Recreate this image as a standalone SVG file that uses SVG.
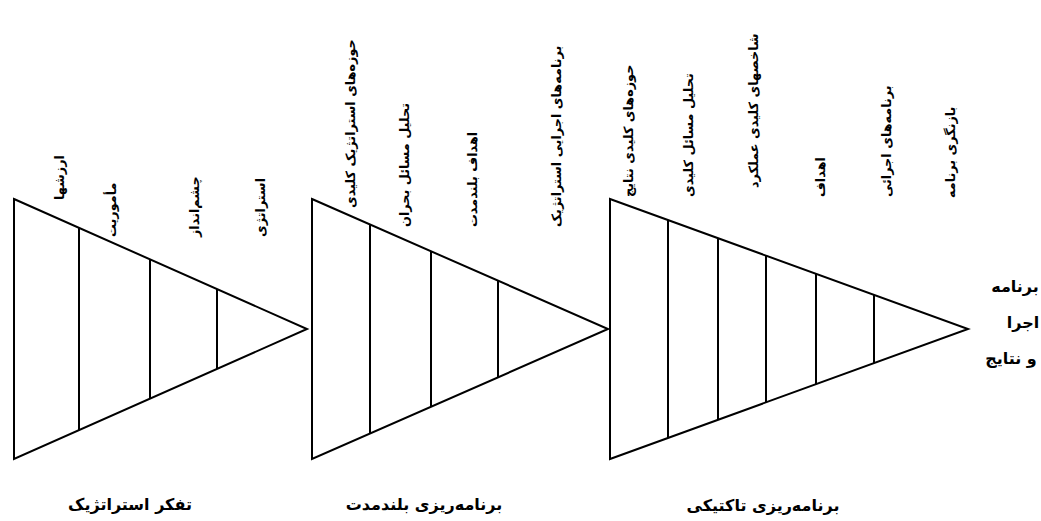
<svg xmlns="http://www.w3.org/2000/svg" width="1041" height="521" viewBox="0 0 1041 521">
<style>
.shape{fill:none;stroke:#000;stroke-width:2;stroke-linejoin:miter}
.div{stroke:#000;stroke-width:2}
.lbl{font-family:"DejaVu Sans",sans-serif;font-size:12.8px;font-weight:bold;fill:#000;text-anchor:start}
.title{font-family:"DejaVu Sans",sans-serif;font-size:16px;font-weight:bold;fill:#000;text-anchor:middle}
</style>
<rect width="1041" height="521" fill="#fff"/>
<g id="tri1">
<polygon class="shape" points="14,199 307,329 14,459"/>
<line class="div" x1="79" y1="228" x2="79" y2="430"/>
<line class="div" x1="150" y1="259" x2="150" y2="399"/>
<line class="div" x1="217" y1="289" x2="217" y2="369"/>
<text class="lbl" transform="translate(64,200) rotate(-90)">ارزشها</text>
<text class="lbl" transform="translate(116,237) rotate(-90)">مأموریت</text>
<text class="lbl" transform="translate(199,237) rotate(-90)">چشم‌انداز</text>
<text class="lbl" transform="translate(265,237) rotate(-90)">استراتژی</text>
<text class="title" x="130" y="510">تفکر استراتژیک</text>
</g>
<g id="tri2">
<polygon class="shape" points="312,199 608,329 312,459"/>
<line class="div" x1="370" y1="224" x2="370" y2="434"/>
<line class="div" x1="431" y1="251" x2="431" y2="407"/>
<line class="div" x1="498" y1="281" x2="498" y2="377"/>
<text class="lbl" transform="translate(355,208) rotate(-90)">حوزه‌های استراتژیک کلیدی</text>
<text class="lbl" transform="translate(409,227) rotate(-90)">تحلیل مسائل بحران</text>
<text class="lbl" transform="translate(477,227) rotate(-90)">اهداف بلندمدت</text>
<text class="lbl" transform="translate(561,227) rotate(-90)">برنامه‌های اجرایی استراتژیک</text>
<text class="title" x="424" y="510">برنامه‌ریزی بلندمدت</text>
</g>
<g id="tri3">
<polygon class="shape" points="610,199 968,329 610,459"/>
<line class="div" x1="668" y1="220" x2="668" y2="438"/>
<line class="div" x1="718" y1="238" x2="718" y2="420"/>
<line class="div" x1="766" y1="256" x2="766" y2="402"/>
<line class="div" x1="816" y1="274" x2="816" y2="384"/>
<line class="div" x1="874" y1="295" x2="874" y2="363"/>
<text class="lbl" transform="translate(633,197) rotate(-90)">حوزه‌های کلیدی نتایج</text>
<text class="lbl" transform="translate(693,197) rotate(-90)">تحلیل مسائل کلیدی</text>
<text class="lbl" transform="translate(758,188) rotate(-90)">شاخصهای کلیدی عملکرد</text>
<text class="lbl" transform="translate(825,197) rotate(-90)">اهداف</text>
<text class="lbl" transform="translate(891,197) rotate(-90)">برنامه‌های اجرائی</text>
<text class="lbl" transform="translate(955,198) rotate(-90)">بازنگری برنامه</text>
<text class="title" x="763" y="511">برنامه‌ریزی تاکتیکی</text>
</g>
<g id="result">
<text class="title" x="1015" y="292">برنامه</text>
<text class="title" x="1023" y="328">اجرا</text>
<text class="title" x="1011" y="364">و نتایج</text>
</g>
<g id="connectors"></g>
</svg>
